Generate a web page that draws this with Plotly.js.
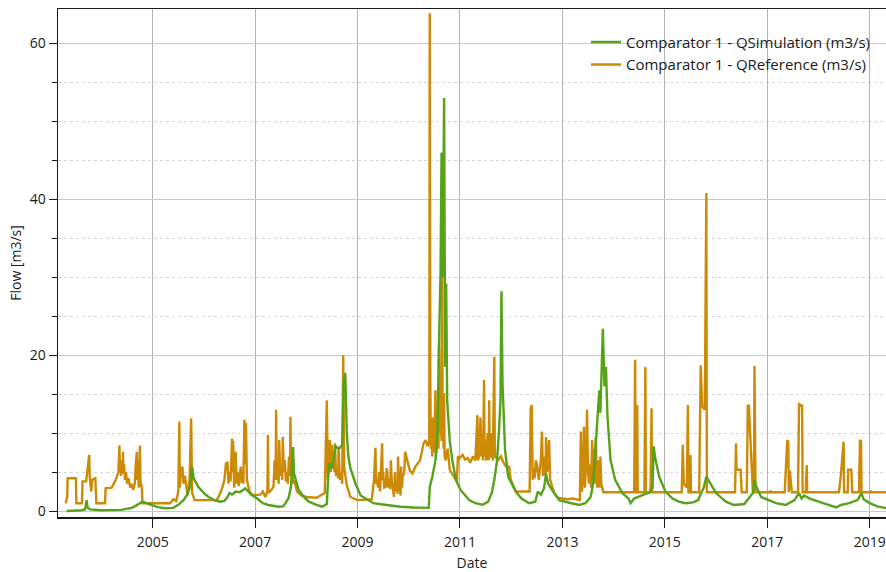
<!DOCTYPE html>
<html>
<head>
<meta charset="utf-8">
<script src="https://cdn.plot.ly/plotly-3.0.1.min.js"></script>
<style>
html,body{margin:0;padding:0;background:#fff;overflow:hidden;}
#chart{width:886px;height:572px;}
</style>
</head>
<body>
<div id="chart"></div>
<script>
// Series names
const simName = 'Comparator 1 - QSimulation (m3/s)';
const refName = 'Comparator 1 - QReference (m3/s)';

// QSimulation: decimal-year positions and flow values (m3/s)
const simYears = [
2003.32,2003.50,2003.60,2003.68,2003.71,2003.73,2003.78,2004.00,2004.39,2004.50,2004.57,2004.65,2004.75,2004.80,2004.90,2004.98,
2005.10,2005.24,2005.40,2005.50,2005.60,2005.67,2005.73,2005.77,2005.80,2005.89,2006.00,2006.09,2006.20,2006.32,2006.40,2006.45,
2006.50,2006.55,2006.62,2006.70,2006.75,2006.81,2006.84,2006.92,2007.04,2007.15,2007.26,2007.46,2007.55,2007.65,2007.70,2007.74,
2007.76,2007.80,2007.85,2007.95,2008.05,2008.20,2008.31,2008.40,2008.44,2008.50,2008.57,2008.64,2008.70,2008.73,2008.76,2008.79,
2008.82,2008.86,2008.96,2009.06,2009.16,2009.31,2009.42,2009.68,2009.84,2010.10,2010.36,2010.39,2010.41,2010.46,2010.52,2010.56,
2010.59,2010.62,2010.64,2010.66,2010.69,2010.71,2010.73,2010.75,2010.80,2010.85,2010.92,2011.01,2011.18,2011.30,2011.44,2011.55,
2011.62,2011.67,2011.72,2011.76,2011.79,2011.81,2011.83,2011.88,2011.94,2012.09,2012.20,2012.35,2012.47,2012.52,2012.58,2012.64,
2012.68,2012.72,2012.80,2012.94,2013.17,2013.33,2013.45,2013.55,2013.60,2013.65,2013.68,2013.72,2013.74,2013.76,2013.79,2013.82,
2013.85,2013.88,2013.94,2014.03,2014.17,2014.29,2014.33,2014.40,2014.56,2014.70,2014.76,2014.78,2014.82,2014.89,2015.01,2015.15,
2015.27,2015.40,2015.55,2015.65,2015.71,2015.76,2015.81,2015.86,2016.00,2016.19,2016.35,2016.55,2016.72,2016.75,2016.78,2016.88,
2017.17,2017.36,2017.53,2017.62,2017.67,2017.72,2017.83,2018.09,2018.35,2018.44,2018.60,2018.76,2018.84,2018.88,2019.00,2019.15,
2019.33];
const simFlow = [
0.0,0.05,0.1,0.2,1.4,0.4,0.2,0.1,0.15,0.3,0.35,0.6,1.0,1.2,0.95,0.77,
0.5,0.35,0.4,0.8,1.4,2.05,3.1,5.7,4.2,3.1,2.3,1.8,1.4,1.2,1.3,1.7,
2.3,2.1,2.5,2.4,2.6,2.9,2.7,2.1,1.6,1.0,0.77,0.55,0.6,1.6,3.1,8.2,
4.8,3.8,2.7,1.8,1.2,0.8,0.55,0.9,6.1,5.5,8.3,8.0,8.5,16.8,17.7,10.0,
7.0,5.5,3.5,2.0,1.6,1.0,0.9,0.7,0.55,0.45,0.35,0.4,3.1,4.4,6.5,10.0,
21.5,30.5,46.0,30.0,53.0,18.5,29.2,14.2,9.0,6.5,4.0,2.7,1.4,1.0,0.8,1.2,
2.3,4.0,6.3,10.0,14.2,28.2,16.4,7.8,4.4,2.5,1.6,1.0,1.2,2.5,2.1,2.9,
4.8,3.5,2.7,1.4,1.0,0.77,1.0,1.8,3.5,8.3,10.4,15.5,12.6,16.0,23.4,16.0,
18.5,12.1,6.5,4.0,2.3,1.6,1.0,1.6,2.05,2.4,3.0,8.3,6.5,4.4,2.5,1.6,
1.2,1.0,1.1,1.4,2.3,3.0,4.4,3.8,2.3,1.2,0.77,0.9,2.3,4.0,3.2,1.8,
1.0,0.77,1.4,2.3,1.6,2.0,1.6,1.0,0.47,0.77,1.0,1.4,2.3,1.5,1.0,0.6,
0.35];

// QReference: decimal-year positions and flow values (m3/s) (8 per row)
const refYears = [
2003.30,2003.33,2003.34,2003.50,2003.51,2003.62,2003.63,2003.70,
2003.72,2003.76,2003.77,2003.80,2003.82,2003.86,2003.88,2003.90,
2004.07,2004.08,2004.20,2004.28,2004.33,2004.35,2004.36,2004.37,
2004.38,2004.40,2004.41,2004.42,2004.43,2004.44,2004.46,2004.48,
2004.50,2004.53,2004.56,2004.59,2004.62,2004.65,2004.67,2004.69,
2004.70,2004.71,2004.73,2004.75,2004.76,2004.77,2004.79,2004.80,
2005.34,2005.40,2005.46,2005.50,2005.52,2005.53,2005.55,2005.58,
2005.60,2005.63,2005.66,2005.68,2005.72,2005.75,2005.77,2005.82,
2006.25,2006.30,2006.36,2006.40,2006.43,2006.46,2006.48,2006.50,
2006.52,2006.55,2006.56,2006.57,2006.59,2006.61,2006.62,2006.64,
2006.66,2006.68,2006.70,2006.72,2006.74,2006.75,2006.77,2006.79,
2006.80,2006.82,2006.84,2006.89,2006.95,2007.10,2007.15,2007.20,
2007.24,2007.25,2007.26,2007.33,2007.36,2007.38,2007.40,2007.41,
2007.42,2007.44,2007.46,2007.47,2007.49,2007.51,2007.53,2007.54,
2007.56,2007.58,2007.60,2007.62,2007.64,2007.66,2007.68,2007.69,
2007.70,2007.72,2007.74,2007.76,2007.82,2007.90,2008.00,2008.20,
2008.36,2008.40,2008.42,2008.44,2008.46,2008.48,2008.50,2008.52,
2008.53,2008.55,2008.56,2008.58,2008.60,2008.62,2008.63,2008.65,
2008.66,2008.68,2008.70,2008.72,2008.74,2008.79,2008.86,2009.00,
2009.28,2009.32,2009.35,2009.36,2009.38,2009.40,2009.42,2009.44,
2009.45,2009.48,2009.49,2009.50,2009.52,2009.55,2009.57,2009.58,
2009.60,2009.62,2009.64,2009.65,2009.67,2009.69,2009.71,2009.73,
2009.74,2009.76,2009.78,2009.79,2009.81,2009.82,2009.84,2009.85,
2009.87,2009.88,2009.91,2009.93,2009.97,2010.02,2010.07,2010.13,
2010.22,2010.29,2010.33,2010.37,2010.40,2010.41,2010.42,2010.43,
2010.44,2010.46,2010.47,2010.49,2010.50,2010.52,2010.53,2010.54,
2010.56,2010.57,2010.58,2010.59,2010.61,2010.62,2010.64,2010.65,
2010.66,2010.67,2010.68,2010.69,2010.70,2010.72,2010.76,2010.80,
2010.88,2010.94,2010.96,2011.00,2011.05,2011.10,2011.15,2011.20,
2011.25,2011.30,2011.34,2011.35,2011.37,2011.40,2011.42,2011.43,
2011.45,2011.47,2011.48,2011.49,2011.51,2011.52,2011.54,2011.56,
2011.57,2011.58,2011.59,2011.61,2011.62,2011.64,2011.67,2011.68,
2011.69,2011.74,2011.80,2011.85,2011.90,2011.96,2011.99,2012.09,
2012.36,2012.38,2012.40,2012.42,2012.44,2012.46,2012.48,2012.50,
2012.52,2012.54,2012.56,2012.58,2012.60,2012.61,2012.62,2012.64,
2012.65,2012.67,2012.68,2012.70,2012.72,2012.74,2012.76,2012.80,
2012.84,2012.90,2013.10,2013.20,2013.34,2013.36,2013.38,2013.40,
2013.42,2013.44,2013.46,2013.48,2013.50,2013.52,2013.54,2013.56,
2013.58,2013.60,2013.61,2013.63,2013.65,2013.68,2013.70,2013.71,
2013.73,2013.74,2013.76,2013.78,2013.80,2014.40,2014.42,2014.43,
2014.45,2014.46,2014.47,2014.60,2014.62,2014.63,2014.72,2014.74,
2014.75,2015.33,2015.35,2015.37,2015.43,2015.45,2015.46,2015.49,
2015.50,2015.51,2015.67,2015.70,2015.73,2015.78,2015.81,2015.82,
2016.37,2016.39,2016.40,2016.48,2016.50,2016.60,2016.62,2016.64,
2016.66,2016.72,2016.74,2016.75,2016.77,2017.05,2017.06,2017.07,
2017.34,2017.36,2017.39,2017.41,2017.42,2017.44,2017.48,2017.60,
2017.62,2017.68,2017.69,2017.75,2017.77,2017.78,2018.40,2018.44,
2018.49,2018.50,2018.57,2018.58,2018.64,2018.66,2018.79,2018.81,
2018.83,2018.84,2019.01,2019.02,2019.03,2019.33];
const refFlow = [
1.0,1.8,4.2,4.2,1.0,1.0,3.8,3.8,
4.9,7.2,4.4,2.5,4.0,4.2,4.2,1.0,
1.0,2.9,3.0,4.0,5.0,8.4,5.0,6.5,
4.5,6.1,4.8,7.6,5.0,6.0,4.0,5.0,
3.5,4.2,3.0,3.5,2.7,3.5,6.0,7.6,
4.0,5.5,3.0,8.4,4.0,3.3,2.8,1.0,
1.0,1.5,1.3,2.5,11.5,3.0,5.0,5.7,
3.5,4.5,2.5,2.0,4.0,11.9,2.3,1.4,
1.4,2.0,3.0,4.0,6.1,6.2,3.5,5.0,
3.8,9.3,5.0,9.0,3.0,5.5,7.6,3.5,
5.0,3.2,4.5,5.7,3.6,4.8,3.5,11.7,
6.0,11.3,4.0,2.5,2.05,2.1,2.5,1.8,
2.5,9.75,2.3,2.8,3.2,6.5,4.0,13.0,
4.0,6.0,3.5,9.1,4.5,5.8,4.0,9.5,
5.0,6.5,3.8,5.0,3.5,7.0,4.5,12.1,
5.0,6.5,3.5,4.0,2.5,2.0,1.8,1.7,
2.3,14.2,4.0,6.0,9.1,5.0,8.5,5.5,
6.5,5.0,8.7,4.5,5.0,4.2,8.0,4.5,
4.0,5.0,3.5,20.0,5.5,3.3,1.8,1.4,
1.5,4.0,8.1,3.5,4.0,3.0,5.0,2.5,
4.0,8.7,4.0,5.0,3.0,3.1,5.5,5.0,
3.0,4.2,2.8,6.5,3.5,3.0,1.8,5.0,
2.5,3.5,2.2,7.0,3.0,3.2,2.0,5.7,
3.0,4.5,4.8,7.6,6.5,5.2,4.8,5.7,
6.5,8.7,9.1,8.3,9.0,63.9,16.8,8.0,
10.0,7.0,12.0,7.5,8.5,15.5,8.0,7.4,
9.0,12.0,8.0,21.1,10.0,12.5,9.0,38.0,
10.0,12.1,8.0,15.1,7.0,6.5,8.0,5.3,
4.4,3.8,7.0,6.8,7.2,6.6,6.8,6.2,
7.0,6.5,12.3,6.5,7.0,12.0,7.0,8.0,
6.5,16.8,7.0,9.0,6.5,7.5,10.0,6.5,
14.2,7.0,7.0,9.0,10.0,6.5,19.8,7.0,
7.0,6.5,7.0,6.2,5.7,5.7,4.0,2.5,
2.5,13.2,13.6,4.0,5.5,4.2,6.5,6.0,
4.5,4.0,5.5,6.5,10.2,4.5,4.5,7.0,
5.5,4.5,9.5,5.0,6.0,9.1,4.0,3.0,
2.3,1.7,1.5,1.6,1.4,10.2,2.5,4.0,
10.8,3.0,6.0,13.0,5.0,3.5,6.0,3.0,
9.1,4.0,8.0,3.5,9.5,3.0,5.0,6.5,
3.0,7.0,3.5,2.7,2.4,2.4,19.4,2.4,
2.4,13.6,2.4,2.4,18.5,2.4,2.4,13.2,
2.4,2.4,8.5,3.5,3.0,13.6,2.4,2.4,
7.2,2.4,2.4,18.7,13.4,13.0,40.8,2.4,
2.4,8.7,5.3,5.3,2.4,2.4,13.6,13.5,
10.4,2.4,2.4,18.6,2.4,2.4,2.6,2.4,
2.4,5.0,9.1,8.9,2.4,5.2,2.4,2.4,
13.7,13.5,2.4,2.4,5.9,2.4,2.4,4.8,
8.9,2.4,2.4,5.3,5.3,2.4,2.4,9.1,
9.0,2.4,2.4,2.6,2.4,2.4];

// Axis ticks
const xTickYears = [2005, 2007, 2009, 2011, 2013, 2015, 2017, 2019];
const yTickValues = [0, 20, 40, 60];

const FONT = 'Open Sans, Noto Sans, sans-serif';
const traces = [
  {x: refYears, y: refFlow, type: 'scatter', mode: 'lines', name: refName,
   line: {color: '#cc8a06', width: 2.4}},
  {x: simYears, y: simFlow, type: 'scatter', mode: 'lines', name: simName,
   line: {color: '#56a31a', width: 2.4}}
];

const layout = {
  width: 886, height: 572,
  margin: {l: 58, r: 0, t: 9, b: 55, pad: 0},
  paper_bgcolor: '#ffffff', plot_bgcolor: '#ffffff',
  font: {family: FONT, size: 14, color: '#1a1a1a'},
  showlegend: true,
  legend: {x: 0.6377, y: 0.967, xanchor: 'left', yanchor: 'top', bgcolor: 'rgba(0,0,0,0)',
           borderwidth: 0, traceorder: 'reversed', font: {family: FONT, size: 15, color: '#1a1a1a'}},
  xaxis: {
    type: 'linear', range: [2003.151, 2019.318],
    tickmode: 'array', tickvals: xTickYears, ticktext: xTickYears.map(String),
    ticks: 'outside', ticklen: 9, tickwidth: 1, tickcolor: '#1a1a1a', ticklabelstandoff: 3,
    showline: true, linecolor: '#1a1a1a', linewidth: 1.5, mirror: true,
    showgrid: true, gridcolor: '#b4b4b4', gridwidth: 1, zeroline: false,
    title: {text: 'Date', font: {family: FONT, size: 14, color: '#1a1a1a'}, standoff: 8}
  },
  yaxis: {
    range: [-0.77, 64.43],
    tickmode: 'array', tickvals: yTickValues,
    ticks: 'outside', ticklen: 8, tickwidth: 1, tickcolor: '#1a1a1a',
    showline: true, linecolor: '#1a1a1a', linewidth: 1.5,
    showgrid: true, gridcolor: '#c8c8c8', gridwidth: 1, zeroline: false,
    minor: {dtick: 5, tick0: 0, ticks: 'outside', ticklen: 5, tickcolor: '#1a1a1a',
            showgrid: true, gridcolor: '#d6d6d6', griddash: 'dot', gridwidth: 1},
    title: {text: 'Flow [m3/s]', font: {family: FONT, size: 14, color: '#1a1a1a'}, standoff: 5}
  }
};

Plotly.newPlot('chart', traces, layout, {displayModeBar: false, staticPlot: true});
</script>
</body>
</html>
